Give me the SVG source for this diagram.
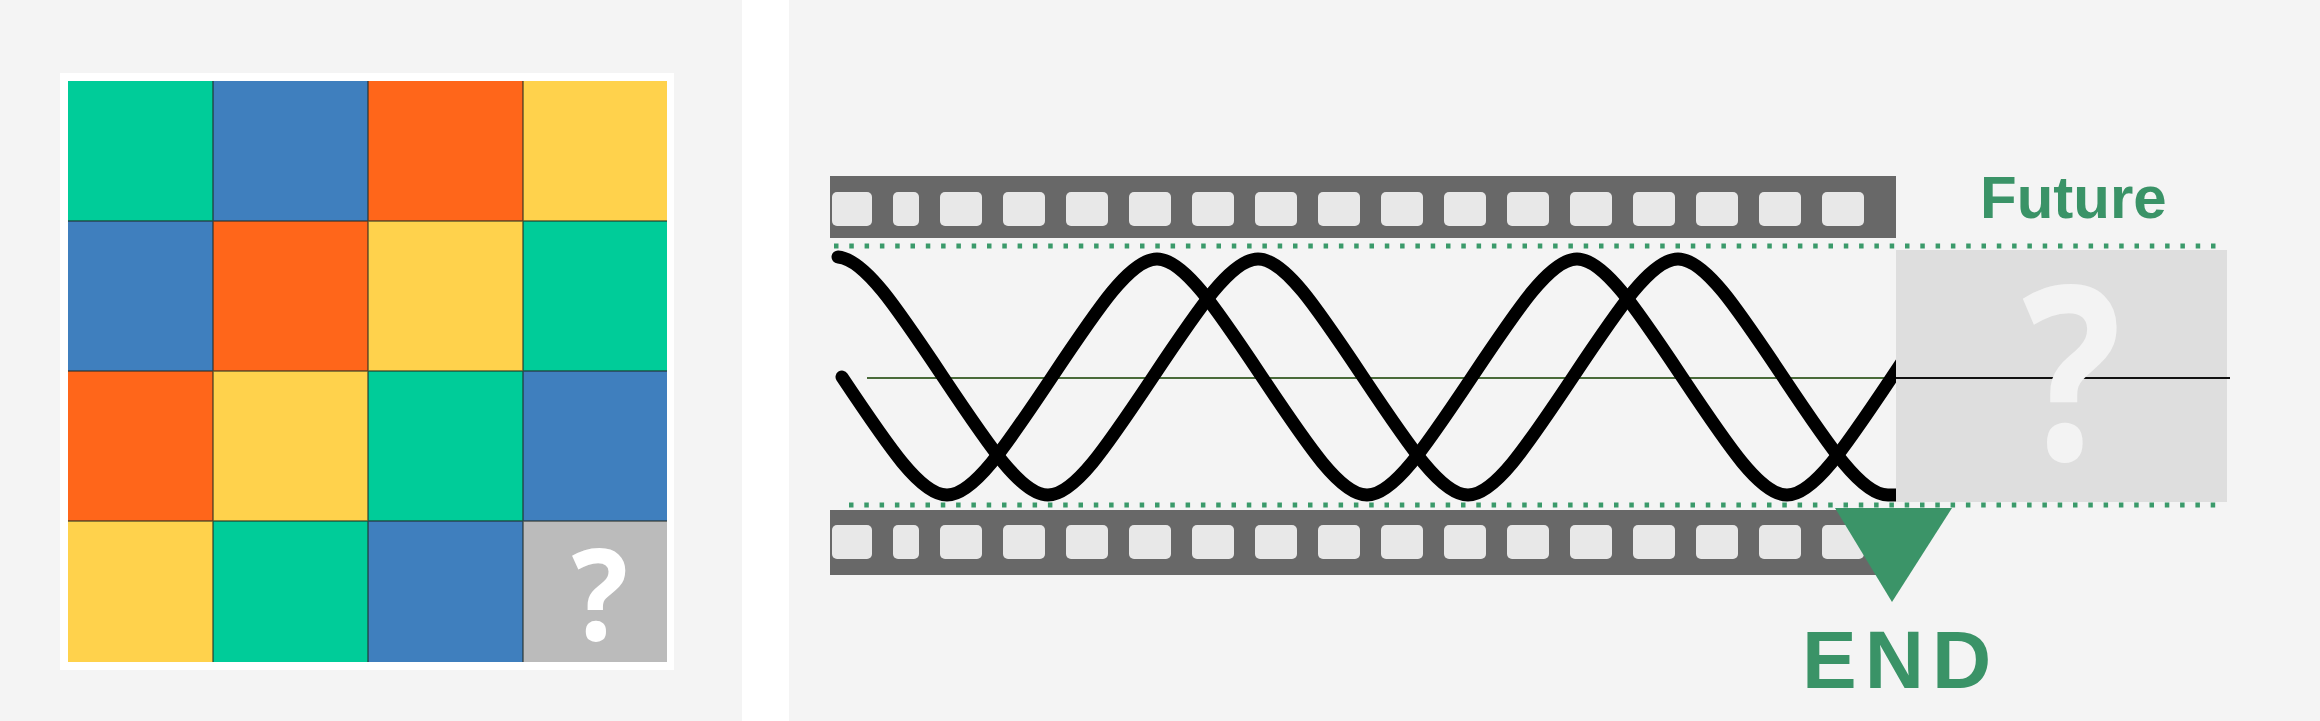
<svg xmlns="http://www.w3.org/2000/svg" xmlns:xlink="http://www.w3.org/1999/xlink" width="2320" height="721" viewBox="0 0 2320 721">
  <style>
    .g { fill: #00CC99; }
    .b { fill: #3F7FBE; }
    .o { fill: #FF661A; }
    .y { fill: #FFD24C; }
    .sep { stroke: #1f2a22; stroke-width: 1.5; stroke-opacity: 0.7; fill: none; }
    .strip { fill: #686868; }
    .hole { fill: #e8e8e8; }
    .dots { stroke: #3a9a6a; stroke-width: 5; stroke-dasharray: 4.5 10.8; fill: none; }
    .wave { stroke: #000; stroke-width: 13; fill: none; stroke-linecap: round; stroke-linejoin: round; }
    .lbl { font-family: "Liberation Sans", Arial, sans-serif; font-weight: bold; fill: #3a9367; }
    .q { font-family: "Open Sans", "Liberation Sans", sans-serif; font-weight: bold; }
  </style>
  <defs>
    <g id="holes">
      <rect class="hole" x="832" y="0" width="40" height="34" rx="5"/>
      <rect class="hole" x="893" y="0" width="26" height="34" rx="5"/>
      <rect class="hole" x="940" y="0" width="42" height="34" rx="5"/>
      <rect class="hole" x="1003" y="0" width="42" height="34" rx="5"/>
      <rect class="hole" x="1066" y="0" width="42" height="34" rx="5"/>
      <rect class="hole" x="1129" y="0" width="42" height="34" rx="5"/>
      <rect class="hole" x="1192" y="0" width="42" height="34" rx="5"/>
      <rect class="hole" x="1255" y="0" width="42" height="34" rx="5"/>
      <rect class="hole" x="1318" y="0" width="42" height="34" rx="5"/>
      <rect class="hole" x="1381" y="0" width="42" height="34" rx="5"/>
      <rect class="hole" x="1444" y="0" width="42" height="34" rx="5"/>
      <rect class="hole" x="1507" y="0" width="42" height="34" rx="5"/>
      <rect class="hole" x="1570" y="0" width="42" height="34" rx="5"/>
      <rect class="hole" x="1633" y="0" width="42" height="34" rx="5"/>
      <rect class="hole" x="1696" y="0" width="42" height="34" rx="5"/>
      <rect class="hole" x="1759" y="0" width="42" height="34" rx="5"/>
      <rect class="hole" x="1822" y="0" width="42" height="34" rx="5"/>
    </g>
  </defs>

  <!-- backgrounds -->
  <rect x="0" y="0" width="2320" height="721" fill="#ffffff"/>
  <rect x="0" y="0" width="742" height="721" fill="#f4f4f4"/>
  <rect x="789" y="0" width="1531" height="721" fill="#f4f4f4"/>

  <!-- left panel: colour grid -->
  <g id="grid">
    <rect x="60" y="73" width="614" height="597" fill="#ffffff"/>
    <rect class="g" x="68" y="81" width="145" height="140"/>
    <rect class="b" x="213" y="81" width="155" height="140"/>
    <rect class="o" x="368" y="81" width="155" height="140"/>
    <rect class="y" x="523" y="81" width="144" height="140"/>

    <rect class="b" x="68" y="221" width="145" height="150"/>
    <rect class="o" x="213" y="221" width="155" height="150"/>
    <rect class="y" x="368" y="221" width="155" height="150"/>
    <rect class="g" x="523" y="221" width="144" height="150"/>

    <rect class="o" x="68" y="371" width="145" height="150"/>
    <rect class="y" x="213" y="371" width="155" height="150"/>
    <rect class="g" x="368" y="371" width="155" height="150"/>
    <rect class="b" x="523" y="371" width="144" height="150"/>

    <rect class="y" x="68" y="521" width="145" height="141"/>
    <rect class="g" x="213" y="521" width="155" height="141"/>
    <rect class="b" x="368" y="521" width="155" height="141"/>
    <rect x="523" y="521" width="144" height="141" fill="#BBBBBB"/>

    <path class="sep" d="M213 81V662M368 81V662M523 81V662M68 221H667M68 371H667M68 521H667"/>
    <text class="q" transform="translate(600,640) scale(0.93,1)" x="0" y="0" text-anchor="middle" font-size="127" fill="#ffffff">?</text>
  </g>

  <!-- right panel: film strip -->
  <g id="film-top">
    <rect class="strip" x="830" y="176" width="1066" height="62"/>
    <use xlink:href="#holes" href="#holes" y="192"/>
  </g>
  <g id="film-bottom">
    <rect class="strip" x="830" y="510" width="1066" height="65"/>
    <use xlink:href="#holes" href="#holes" y="525"/>
  </g>

  <g id="guides">
    <line class="dots" x1="834" y1="246" x2="2222" y2="246"/>
    <line class="dots" x1="849" y1="505" x2="2222" y2="505"/>
    <line x1="867" y1="378" x2="1896" y2="378" stroke="#4a6b3a" stroke-width="2"/>
  </g>

  <g id="waves">
    <path class="wave" d="M842 377 C889.25 447.8 920.75 495 947 495 C973.25 495 1004.75 447.8 1052 377 C1099.25 306.2 1130.75 259 1157 259 C1183.25 259 1214.75 306.2 1262 377 C1309.25 447.8 1340.75 495 1367 495 C1393.25 495 1424.75 447.8 1472 377 C1519.25 306.2 1550.75 259 1577 259 C1603.25 259 1634.75 306.2 1682 377 C1729.25 447.8 1760.75 495 1787 495 C1813.25 495 1844.75 447.8 1892 377 L1902 362"/>
    <path class="wave" d="M838 257 C864.25 259 895.75 306.2 943 377 C990.25 447.8 1021.75 495 1048 495 C1074.25 495 1105.75 447.8 1153 377 C1200.25 306.2 1231.75 259 1258 259 C1284.25 259 1315.75 306.2 1363 377 C1410.25 447.8 1441.75 495 1468 495 C1494.25 495 1525.75 447.8 1573 377 C1620.25 306.2 1651.75 259 1678 259 C1704.25 259 1735.75 306.2 1783 377 C1830.25 447.8 1861.75 495 1888 495 L1905 495"/>
  </g>

  <g id="future">
    <rect x="1896" y="250" width="331" height="252" fill="#dedede"/>
    <line x1="1896" y1="378" x2="2230" y2="378" stroke="#111111" stroke-width="2"/>
    <text class="q" transform="translate(2072,460) scale(0.86,1)" x="0" y="0" text-anchor="middle" font-size="242" fill="#f3f3f3">?</text>
    <text class="lbl" x="1980" y="218" font-size="60">Future</text>
  </g>

  <g id="end">
    <polygon points="1835,508 1952,508 1892,602" fill="#3b9468"/>
    <text class="lbl" x="1802" y="688" font-size="82" letter-spacing="8">END</text>
  </g>
</svg>
